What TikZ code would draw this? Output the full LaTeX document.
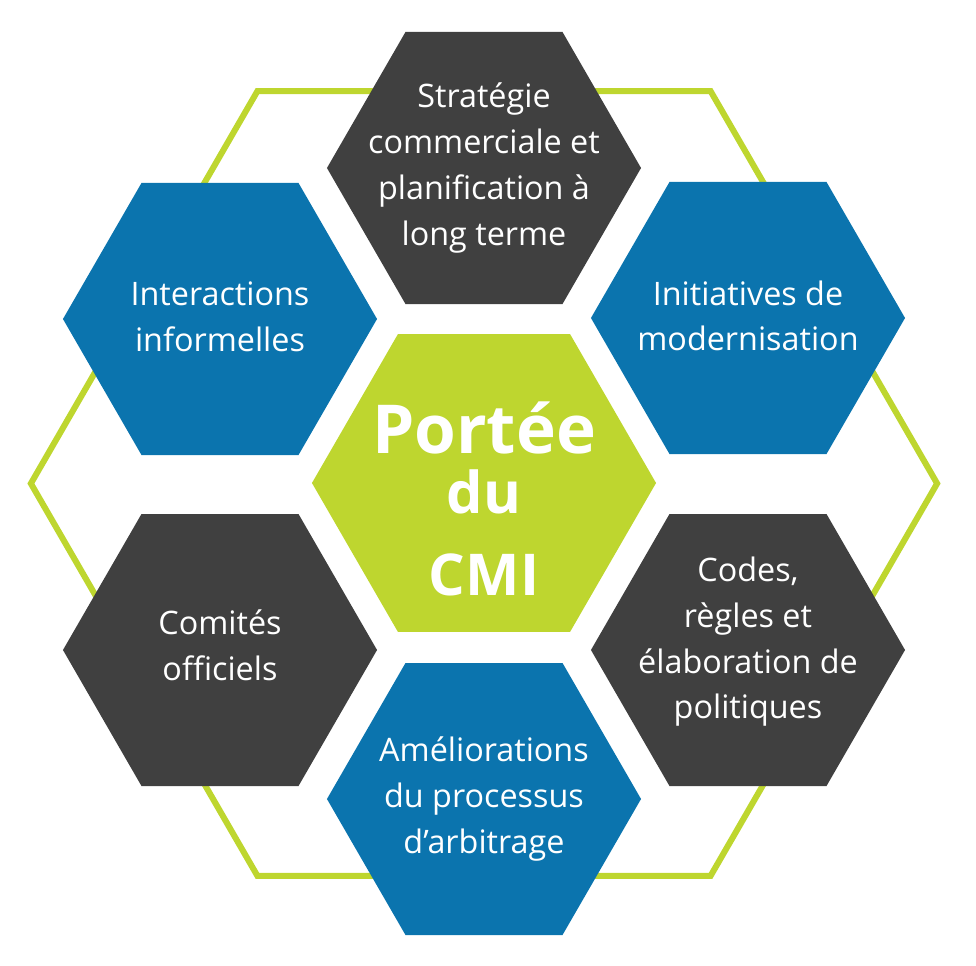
\documentclass[tikz,border=0pt]{standalone}
\usepackage{fontspec}
\setmainfont{Open Sans}
\usetikzlibrary{shapes.geometric}
\definecolor{cmigreen}{HTML}{BED62F}
\definecolor{cmiblue}{HTML}{0B74AE}
\definecolor{cmigray}{HTML}{404040}
\tikzset{
    hexa/.style={regular polygon, regular polygon sides=6, minimum size=7.85cm, inner sep=0pt},
    hexblue/.style={hexa, fill=cmiblue},
    hexgray/.style={hexa, fill=cmigray},
    hextext/.style={text=white, align=center, font=\fontsize{23}{32.5}\selectfont}
}

\begin{document}
\begin{tikzpicture}[x=0.025cm, y=-0.025cm,
        titletext/.style={text=white, align=center, font=\bfseries\fontsize{41}{42.7}\selectfont}]
        \useasboundingbox (0,0) rectangle (976,966);

        % --- Outer frame ---
        \node [hexa, draw=cmigreen, line width=4.3pt, minimum size=22.65cm] (frame) at (484,483.5) {};

        % --- Hexagons ---
        \node [hexgray] (strat)  at (484,168) {};
        \node [hexblue] (inter)  at (220,319) {};
        \node [hexblue] (modern) at (748,318) {};
        \node [hexgray] (comite) at (220,650) {};
        \node [hexgray] (codes)  at (748,650) {};
        \node [hexblue] (arbit)  at (484,799) {};
        \node [hexa, fill=cmigreen, minimum size=8.6cm] (cmi) at (484,483) {};

        % --- Labels ---
        \node [hextext] (strat-txt)  at (strat)  {Stratégie\\commerciale et\\planification à\\long terme};
        \node [hextext] (inter-txt)  at (220,317) {Interactions\\informelles};
        \node [hextext] (modern-txt) at (748,316) {Initiatives de\\modernisation};
        \node [hextext] (comite-txt) at (220,645) {Comités\\officiels};
        \node [hextext] (codes-txt)  at (748,642) {Codes,\\règles et\\élaboration de\\politiques};
        \node [hextext] (arbit-txt)  at (arbit)  {Améliorations\\du processus\\d’arbitrage};
        \node [titletext] (cmi-txt) at (484,499)
            {{\fontsize{48}{42.7}\selectfont Portée}\\du\\[16pt]CMI};
\end{tikzpicture}
\end{document}
